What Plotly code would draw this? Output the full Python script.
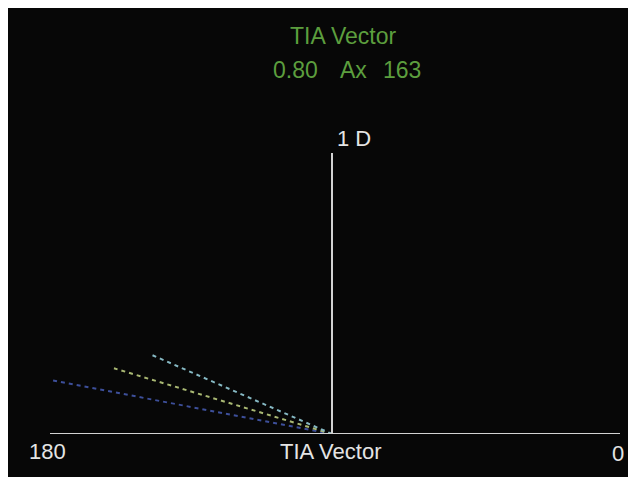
import math
import plotly.graph_objects as go

# ---- data ----
series_names = ["Vector A", "Vector B", "Vector C"]
magnitudes_d = [1.00, 0.80, 0.69]      # dioptres
axes_deg = [169, 163, 156]             # axis in degrees (0 right, 180 left)
line_colors = ["#3d4f9a", "#a9b873", "#86b9c4"]
title_text = "TIA Vector"
summary_mag = "0.80"
summary_ax = "163"
scale_label = "1 D"
x_tick_labels = ["180", "TIA Vector", "0"]

OFF = 8                     # page body margin
W, H = 636 - OFF, 477 - OFF
L, R, T, B = 42, 16, 145, 43
PW, PH = W - L - R, H - T - B
X0 = 332                    # page pixel of origin
xmin = -(X0 - (L + OFF)) / 285.0
xmax = ((W - R + OFF) - X0) / 285.0

def px(xp):                 # page pixel -> paper x
    return (xp - OFF - L) / PW

def py(yp):                 # page pixel -> paper y
    return (H - B - (yp - OFF)) / PH

fig = go.Figure()
for name, m, a, c in zip(series_names, magnitudes_d, axes_deg, line_colors):
    r = math.radians(a)
    fig.add_trace(go.Scatter(
        x=[0, m * math.cos(r)], y=[0, m * math.sin(r)],
        mode="lines", name=name,
        line=dict(color=c, width=2, dash="4px,4px"),
        hoverinfo="skip", showlegend=False))

shapes = [
    dict(type="line", xref="x", yref="y", x0=xmin, x1=xmax, y0=0, y1=0,
         line=dict(color="#d2d2d2", width=2)),
    dict(type="line", xref="x", yref="y", x0=0, x1=0, y0=0, y1=1,
         line=dict(color="#d2d2d2", width=2)),
]

green = "#5c9e3e"
white = "#e4e4e4"
fnt = "Liberation Sans, Arial, sans-serif"

def ann(text, x, y, color, size):
    return dict(text=text, x=px(x), y=py(y), xref="paper", yref="paper",
                xanchor="center", yanchor="middle", showarrow=False,
                font=dict(family=fnt, size=size, color=color))

annotations = [
    ann(title_text, 343, 36, green, 23),
    ann(summary_mag, 295, 70, green, 23),
    ann("Ax", 353, 70, green, 23),
    ann(summary_ax, 402, 70, green, 23),
    ann(scale_label, 354, 139, white, 22),
    ann(x_tick_labels[0], 47, 451, white, 22),
    ann(x_tick_labels[1], 331, 451, white, 22),
    ann(x_tick_labels[2], 618, 453, white, 22),
]

fig.update_layout(
    width=W, height=H,
    margin=dict(l=L, r=R, t=T, b=B, pad=0),
    paper_bgcolor="#070707", plot_bgcolor="#070707",
    xaxis=dict(range=[xmin, xmax], visible=False, fixedrange=True),
    yaxis=dict(range=[0, 1], visible=False, fixedrange=True),
    shapes=shapes, annotations=annotations,
    showlegend=False,
)

fig.write_html("out.html")
